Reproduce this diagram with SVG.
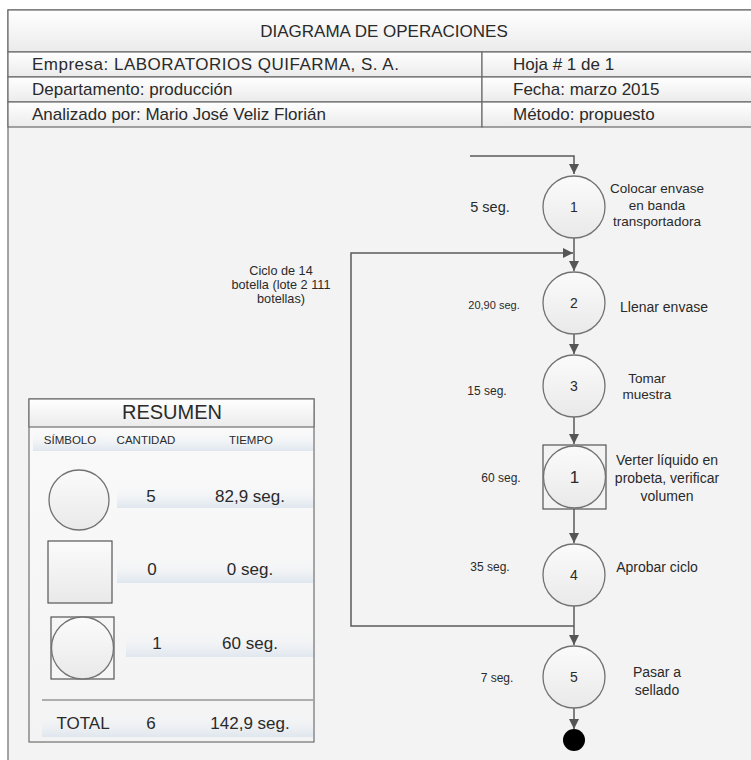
<svg xmlns="http://www.w3.org/2000/svg" width="751" height="760" viewBox="0 0 751 760">
  <defs>
    <linearGradient id="rowFill" x1="0" y1="0" x2="0" y2="1">
      <stop offset="0" stop-color="#ffffff"/>
      <stop offset="1" stop-color="#ebebeb"/>
    </linearGradient>
    <linearGradient id="opFill" x1="0" y1="0" x2="0" y2="1">
      <stop offset="0" stop-color="#fbfbfb"/>
      <stop offset="1" stop-color="#e9e9e9"/>
    </linearGradient>
    <linearGradient id="bandFill" x1="0" y1="0" x2="0" y2="1">
      <stop offset="0" stop-color="#f6f8fa" stop-opacity="0"/>
      <stop offset="1" stop-color="#dfe6ee"/>
    </linearGradient>
    <linearGradient id="boxFill" x1="0" y1="0" x2="0" y2="1">
      <stop offset="0" stop-color="#fafafa"/>
      <stop offset="1" stop-color="#f3f3f3"/>
    </linearGradient>
    <marker id="arrow" viewBox="0 0 10 10" refX="10" refY="5" markerWidth="10" markerHeight="10" markerUnits="userSpaceOnUse" orient="auto">
      <path d="M0,0 L10,5 L0,10 z" fill="#555555"/>
    </marker>
    <style>
      text { font-family: "Liberation Sans", Arial, sans-serif; fill: #2a2a2a; }
      .hdr { font-size: 17px; }
      .lbl { font-size: 13.5px; text-anchor: middle; }
      .time { font-size: 12px; text-anchor: middle; }
      .note { font-size: 12.7px; text-anchor: middle; }
      .num { font-size: 14px; text-anchor: middle; }
      .sub { font-size: 11.5px; text-anchor: middle; }
      .sum { font-size: 17px; text-anchor: middle; }
      .frame { fill: url(#rowFill); stroke: #6b6b6b; stroke-width: 1.2; }
      .op { fill: url(#opFill); stroke: #727272; stroke-width: 1.3; }
      .insp { fill: none; stroke: #555555; stroke-width: 1.2; }
      .conn { fill: none; stroke: #5a5a5a; stroke-width: 1.5; }
      .band { fill: url(#bandFill); }
    </style>
  </defs>

  <!-- page -->
  <rect x="0" y="0" width="751" height="760" fill="#ffffff"/>
  <rect x="8" y="10" width="760" height="760" fill="#f3f3f3" stroke="#6b6b6b" stroke-width="1.2"/>

  <!-- header block -->
  <g id="header">
    <rect class="frame" x="8" y="10" width="760" height="42"/>
    <rect class="frame" x="8" y="52" width="474" height="25"/>
    <rect class="frame" x="482" y="52" width="286" height="25"/>
    <rect class="frame" x="8" y="77" width="474" height="25"/>
    <rect class="frame" x="482" y="77" width="286" height="25"/>
    <rect class="frame" x="8" y="102" width="474" height="25"/>
    <rect class="frame" x="482" y="102" width="286" height="25"/>
    <text class="hdr" x="384" y="37" text-anchor="middle">DIAGRAMA DE OPERACIONES</text>
    <text class="hdr" x="32" y="70" letter-spacing="0.5">Empresa: LABORATORIOS QUIFARMA, S. A.</text>
    <text class="hdr" x="32" y="95">Departamento: producción</text>
    <text class="hdr" x="32" y="120">Analizado por: Mario José Veliz Florián</text>
    <text class="hdr" x="513" y="70">Hoja # 1 de 1</text>
    <text class="hdr" x="513" y="95">Fecha: marzo 2015</text>
    <text class="hdr" x="513" y="120">Método: propuesto</text>
  </g>

  <!-- connectors -->
  <g id="connectors">
    <path class="conn" d="M470,156 H574 V174" marker-end="url(#arrow)"/>
    <path class="conn" d="M574,238 V271" marker-end="url(#arrow)"/>
    <path class="conn" d="M574,626 H351 V253 H573" marker-end="url(#arrow)"/>
    <path class="conn" d="M574,334 V354" marker-end="url(#arrow)"/>
    <path class="conn" d="M574,417 V444" marker-end="url(#arrow)"/>
    <path class="conn" d="M574,509 V543" marker-end="url(#arrow)"/>
    <path class="conn" d="M574,606 V645" marker-end="url(#arrow)"/>
    <path class="conn" d="M574,708 V729" marker-end="url(#arrow)"/>
  </g>

  <text id="cycle-note" class="note" x="281" y="275"><tspan x="281" y="275">Ciclo de 14</tspan><tspan x="281" y="289">botella (lote 2 111</tspan><tspan x="281" y="303">botellas)</tspan></text>

  <!-- operations -->
  <g id="op1">
    <circle class="op" cx="574" cy="207" r="31"/>
    <text class="num" x="574" y="212">1</text>
    <text class="time" x="490" y="212" style="font-size:14.5px">5 seg.</text>
    <text class="lbl" x="657"><tspan x="657" y="193">Colocar envase</tspan><tspan x="657" y="210">en banda</tspan><tspan x="657" y="226">transportadora</tspan></text>
  </g>
  <g id="op2">
    <circle class="op" cx="574" cy="303" r="31"/>
    <text class="num" x="574" y="308">2</text>
    <text class="time" x="494" y="309" style="font-size:11px">20,90 seg.</text>
    <text class="lbl" x="664" y="312" style="font-size:14px">Llenar envase</text>
  </g>
  <g id="op3">
    <circle class="op" cx="574" cy="386" r="31"/>
    <text class="num" x="574" y="391">3</text>
    <text class="time" x="487" y="395">15 seg.</text>
    <text class="lbl" x="647"><tspan x="647" y="383">Tomar</tspan><tspan x="647" y="399">muestra</tspan></text>
  </g>
  <g id="insp1">
    <rect class="insp" x="543" y="445" width="63" height="64" fill="#f6f6f6"/>
    <circle class="op" cx="574.5" cy="477" r="31"/>
    <text class="num" x="574.5" y="483" style="font-size:17px">1</text>
    <text class="time" x="501" y="482">60 seg.</text>
    <text class="lbl" x="667" style="font-size:14px"><tspan x="667" y="465">Verter líquido en</tspan><tspan x="667" y="483">probeta, verificar</tspan><tspan x="667" y="501">volumen</tspan></text>
  </g>
  <g id="op4">
    <circle class="op" cx="574" cy="575" r="31"/>
    <text class="num" x="574" y="580">4</text>
    <text class="time" x="490" y="571">35 seg.</text>
    <text class="lbl" x="657" y="572" style="font-size:14px">Aprobar ciclo</text>
  </g>
  <g id="op5">
    <circle class="op" cx="574" cy="677" r="31"/>
    <text class="num" x="574" y="682">5</text>
    <text class="time" x="497" y="682">7 seg.</text>
    <text class="lbl" x="657" style="font-size:14px"><tspan x="657" y="677">Pasar a</tspan><tspan x="657" y="695">sellado</tspan></text>
  </g>
  <g id="end">
    <circle cx="574" cy="740" r="11" fill="#000000"/>
  </g>

  <!-- summary table -->
  <g id="summary">
    <rect x="29" y="399" width="285" height="343" fill="url(#boxFill)" stroke="#707070" stroke-width="1.2"/>
    <rect x="29" y="399" width="285" height="28" fill="url(#rowFill)" stroke="#707070" stroke-width="1.2"/>
    <text x="172" y="419" text-anchor="middle" style="font-size:20px">RESUMEN</text>
    <rect class="band" x="33" y="430" width="280" height="21"/>
    <text class="sub" x="70" y="444">SÍMBOLO</text>
    <text class="sub" x="146" y="444">CANTIDAD</text>
    <text class="sub" x="251" y="444">TIEMPO</text>

    <rect class="band" x="117" y="484" width="196" height="24"/>
    <circle class="op" cx="79" cy="500" r="30"/>
    <text class="sum" x="151" y="502">5</text>
    <text class="sum" x="250" y="502">82,9 seg.</text>

    <rect class="band" x="117" y="558" width="196" height="25"/>
    <rect x="48" y="541" width="64" height="62" fill="url(#opFill)" stroke="#555555" stroke-width="1.2"/>
    <text class="sum" x="152" y="575">0</text>
    <text class="sum" x="250" y="575">0 seg.</text>

    <rect class="band" x="126" y="632" width="187" height="25"/>
    <rect x="51" y="617" width="63" height="62" fill="#f6f6f6" stroke="#555555" stroke-width="1.2"/>
    <circle class="op" cx="82.5" cy="648" r="31"/>
    <text class="sum" x="157" y="649">1</text>
    <text class="sum" x="250" y="649">60 seg.</text>

    <line x1="42" y1="700" x2="313" y2="700" stroke="#666666" stroke-width="1.2"/>
    <rect class="band" x="42" y="712" width="271" height="25"/>
    <text class="sum" x="83" y="729">TOTAL</text>
    <text class="sum" x="151" y="729">6</text>
    <text class="sum" x="250" y="729">142,9 seg.</text>
  </g>
</svg>
